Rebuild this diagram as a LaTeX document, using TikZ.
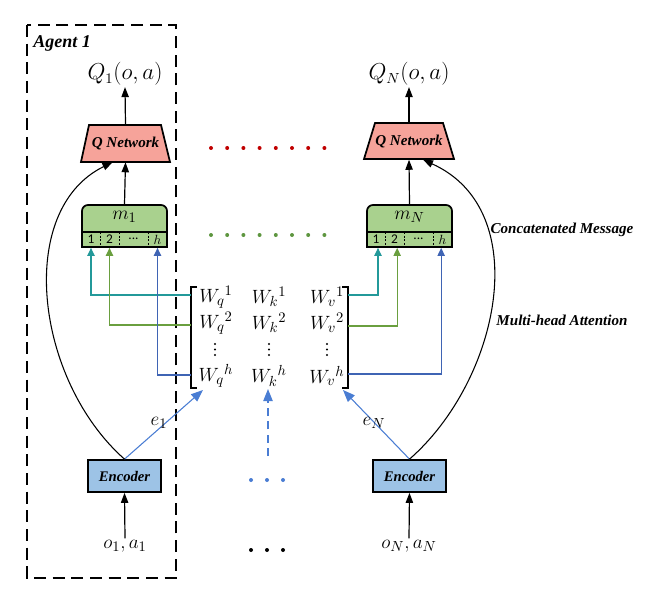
\documentclass[tikz,border=0pt]{standalone}
\usepackage{fontspec}
\setmainfont{Liberation Serif}
\newfontfamily\calfont{Carlito}
\usetikzlibrary{arrows.meta}
\definecolor{qred}{HTML}{F6A39A}
\definecolor{mgreen}{HTML}{A9D18E}
\definecolor{encblue}{HTML}{9DC3E6}
\definecolor{lteal}{HTML}{23999A}
\definecolor{lgreen}{HTML}{6A9F3F}
\definecolor{lblue}{HTML}{3F64B4}
\definecolor{eblue}{HTML}{4A7DD3}
\definecolor{dred}{HTML}{C00000}
\definecolor{dgreen}{HTML}{5E9640}
\begin{document}
\begin{tikzpicture}[x=0.75pt,y=-0.75pt,
  lbl/.style={font=\bfseries\itshape\fontsize{11.3}{13}\selectfont},
  mathlbl/.style={font=\fontsize{15}{17}\selectfont, inner sep=1pt},
  qlbl/.style={font=\fontsize{16}{18}\selectfont, inner sep=1pt},
  arr/.style={-{Triangle[length=7.5pt,width=5.5pt]}, line width=0.9pt},
  carr/.style={-{Triangle[length=6pt,width=5.5pt]}, line width=0.85pt},
  mbox/.style={draw, line width=1.3pt, fill=mgreen, rounded corners=4.5pt, minimum width=63.75pt, minimum height=31.5pt, inner sep=0},
  strip/.style={draw, line width=1.3pt, fill=mgreen, minimum width=63.75pt, minimum height=11.25pt, inner sep=0},
  cell/.style={font=\calfont\fontsize{10}{11}\selectfont, inner sep=0},
  encbox/.style={draw, line width=1.3pt, fill=encblue, minimum width=54.75pt, minimum height=24pt, inner sep=0, font=\bfseries\itshape\fontsize{11}{12}\selectfont},
  qtext/.style={minimum width=66.75pt, minimum height=27.75pt, inner sep=0, font=\bfseries\itshape\fontsize{11.3}{12}\selectfont},
  qshape/.style={draw, line width=1.3pt, fill=qred},
  wlbl/.style={font=\fontsize{15}{17}\selectfont, inner sep=0pt},
  divider/.style={line width=0.6pt, dash pattern=on 1.5pt off 1.2pt},
  dot/.style={circle, inner sep=0, minimum size=3pt},
  vdot/.style={circle, fill=black, inner sep=0, minimum size=1.8pt}
]
\useasboundingbox (0,0) rectangle (664,606);

% Agent box
\draw[line width=1.4pt, dash pattern=on 9pt off 5pt] (27,25) rectangle (176,578);
\node[font=\bfseries\itshape\fontsize{13.5}{15}\selectfont, anchor=west, inner sep=0] (agent) at (33,43) {Agent 1};

% ---------- Agent 1 column ----------
\node[qlbl] (q1l) at (125,74) {$Q_1(o,a)$};
\draw[qshape] (81,162) -- (89,125) -- (161,125) -- (170,162) -- cycle;
\node[qtext] (qn1) at (125.5,143.5) {Q Network};
\node[mbox] (m1) at (124.5,226) {};
\node[strip] (m1s) at (124.5,239.5) {};
\node[font=\fontsize{15}{17}\selectfont, inner sep=0] (m1l) at (124.5,217) {$m_1$};
\node[cell] (c11) at (91,239.5) {1};
\node[cell] (c12) at (109.5,239.5) {2};
\node[cell] (c13) at (133.5,239) {...};
\node[cell] (c1h) at (157.5,239.5) {$h$};
\draw[divider] (100,232) -- (100,247);
\draw[divider] (119,232) -- (119,247);
\draw[divider] (148,232) -- (148,247);
\node[encbox] (enc1) at (124.5,476) {Encoder};
\node[mathlbl] (o1l) at (125,546) {$o_1,a_1$};

\draw[arr] (qn1.north) -- (q1l.south);
\draw[arr] (m1.north) -- (qn1.south);
\draw[arr] (o1l.north) -- (enc1.south);

% ---------- Agent N column ----------
\node[qlbl] (qNl) at (409,74) {$Q_N(o,a)$};
\draw[qshape] (364,159) -- (375,123) -- (443,123) -- (454,159) -- cycle;
\node[qtext] (qnN) at (409,141) {Q Network};
\node[mbox] (mN) at (409.5,226) {};
\node[strip] (mNs) at (409.5,239.5) {};
\node[font=\fontsize{15}{17}\selectfont, inner sep=0] (mNl) at (409.5,217) {$m_N$};
\node[cell] (cN1) at (376,239.5) {1};
\node[cell] (cN2) at (394.5,239.5) {2};
\node[cell] (cN3) at (418.5,239) {...};
\node[cell] (cNh) at (442.5,239.5) {$h$};
\draw[divider] (385,232) -- (385,247);
\draw[divider] (404,232) -- (404,247);
\draw[divider] (433,232) -- (433,247);
\node[encbox] (encN) at (409.5,476) {Encoder};
\node[mathlbl] (oNl) at (409,546) {$o_N,a_N$};

\draw[arr] (qnN.north) -- (qNl.south);
\draw[arr] (mN.north) -- (qnN.south);
\draw[arr] (oNl.north) -- (encN.south);

% ---------- Attention matrix ----------
\node[wlbl] (wq1) at (216,297) {$W_q{}^1$};
\node[wlbl] (wk1) at (269,297) {$W_k{}^1$};
\node[wlbl] (wv1) at (327,297) {$W_v{}^1$};
\node[wlbl] (wq2) at (216,323) {$W_q{}^2$};
\node[wlbl] (wk2) at (269,323) {$W_k{}^2$};
\node[wlbl] (wv2) at (327,323) {$W_v{}^2$};
\foreach \cx/\nm in {215/q,269/k,327/v} {
  \node[vdot] (vd\nm1) at (\cx,344) {};
  \node[vdot] (vd\nm2) at (\cx,349.5) {};
  \node[vdot] (vd\nm3) at (\cx,355) {};
}
\node[wlbl] (wqh) at (216,376) {$W_q{}^h$};
\node[wlbl] (wkh) at (269,376) {$W_k{}^h$};
\node[wlbl] (wvh) at (327,376) {$W_v{}^h$};
\draw[line width=1.2pt] (197,287) -- (191,287) -- (191,388) -- (197,388);
\draw[line width=1.2pt] (342,287) -- (348,287) -- (348,388) -- (342,388);

\coordinate (bl1) at (191,295);
\coordinate (bl2) at (191,325);
\coordinate (blh) at (191,375);
\coordinate (br1) at (348,295);
\coordinate (br2) at (348,326);
\coordinate (brh) at (348,374);

\draw[carr, lteal] (bl1) -| (c11 |- m1s.south);
\draw[carr, lgreen] (bl2) -| (c12 |- m1s.south);
\draw[carr, lblue] (blh) -| (c1h |- m1s.south);
\draw[carr, lteal] (br1) -| ([xshift=1.5pt]cN1 |- mNs.south);
\draw[carr, lgreen] (br2) -| ([xshift=2pt]cN2 |- mNs.south);
\draw[carr, lblue] (brh) -| ([xshift=-1pt]cNh |- mNs.south);

% encoder to attention
\coordinate (wqin) at (203,390);
\coordinate (wvin) at (343,390);
\draw[eblue, line width=0.8pt, -{Triangle[length=9pt,width=7pt]}] (enc1.north) -- (wqin);
\draw[eblue, line width=0.8pt, -{Triangle[length=9pt,width=7pt]}] (encN.north) -- (wvin);
\node[mathlbl] (e1l) at (159,423) {$e_1$};
\node[mathlbl] (eNl) at (374,423) {$e_N$};
\coordinate (mdstart) at (268,456);
\draw[eblue, line width=0.9pt, dash pattern=on 6pt off 4pt, -{Triangle[length=9pt,width=7pt]}] (mdstart) -- (268,389);

% curves to Q networks
\draw[arr, line width=0.8pt] (enc1.north) .. controls (35,380) and (15,210) .. ([xshift=-9.75pt]qn1.south);
\draw[arr, line width=0.8pt] (encN.north) .. controls (500,380) and (535,210) .. ([xshift=10.5pt]qnN.south);

% dots
\foreach \i in {0,...,7} {
  \node[dot, fill=dred] (rd\i) at ({211+16.2*\i},148) {};
  \node[dot, fill=dgreen] (gd\i) at ({211+16.2*\i},235) {};
}
\foreach \i/\xx in {0/251,1/267,2/283} {
  \node[dot, fill=eblue] (bd\i) at (\xx,480) {};
  \node[dot, fill=black] (kd\i) at (\xx,550) {};
}

% side labels
\node[lbl] (cmsg) at (562,230) {Concatenated Message};
\node[lbl] (mha) at (562,320) {Multi-head Attention};
\end{tikzpicture}
\end{document}
